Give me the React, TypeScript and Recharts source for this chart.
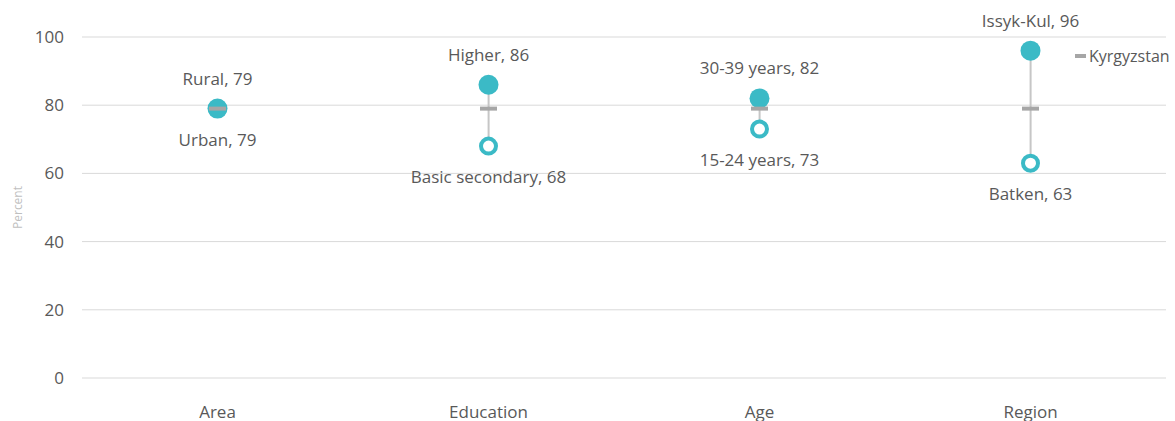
import {
  ComposedChart,
  Bar,
  Line,
  XAxis,
  YAxis,
  CartesianGrid,
  LabelList,
} from 'recharts';

const categories = ['Area', 'Education', 'Age', 'Region'];
const highNames = ['Rural', 'Higher', '30-39 years', 'Issyk-Kul'];
const highValues = [79, 86, 82, 96];
const lowNames = ['Urban', 'Basic secondary', '15-24 years', 'Batken'];
const lowValues = [79, 68, 73, 63];
const nationalValues = [79, 79, 79, 79];
const yTicks = [0, 20, 40, 60, 80, 100];

const data = categories.map((category, i) => ({
  category,
  high: highValues[i],
  low: lowValues[i],
  national: nationalValues[i],
  range: [lowValues[i], highValues[i]],
}));

const TEAL = '#3bbac6';
const DASH_GREY = '#a6a6a6';
const TEXT = '#595959';
const FONT = '"Open Sans", Roboto, sans-serif';

// thin vertical connector from min to max
function RangeLine(props: any) {
  const { x, y, width, height } = props;
  if (x == null || y == null) return null;
  const cx = x + width / 2;
  return <line x1={cx} x2={cx} y1={y} y2={y + height} stroke="#c6c6c6" strokeWidth={2} />;
}

function FilledDot(props: any) {
  const { cx, cy, index } = props;
  if (cx == null || cy == null) return null;
  return <circle key={`f${index}`} cx={cx} cy={cy} r={10} fill={TEAL} />;
}

function HollowDot(props: any) {
  const { cx, cy, index } = props;
  if (cx == null || cy == null) return null;
  return <circle key={`h${index}`} cx={cx} cy={cy} r={7.5} fill="#fff" stroke={TEAL} strokeWidth={4} />;
}

function NationalDash(props: any) {
  const { cx, cy, index } = props;
  if (cx == null || cy == null) return null;
  return <rect key={`n${index}`} x={cx - 8.5} y={cy - 2} width={17} height={4} fill={DASH_GREY} />;
}

function HighLabel(props: any) {
  const { x, y, index } = props;
  return (
    <text x={x} y={y - 30} dy="0.35em" textAnchor="middle" fill={TEXT} fontSize={17} fontFamily={FONT}>
      {`${highNames[index]}, ${highValues[index]}`}
    </text>
  );
}

function LowLabel(props: any) {
  const { x, y, index } = props;
  return (
    <text x={x} y={y + 31} dy="0.35em" textAnchor="middle" fill={TEXT} fontSize={17} fontFamily={FONT}>
      {`${lowNames[index]}, ${lowValues[index]}`}
    </text>
  );
}

export default function App() {
  return (
    <div style={{ position: 'absolute', left: 0, top: 0, width: 1175, height: 421, background: '#fff', overflow: 'hidden' }}>
      <ComposedChart width={1175} height={421} data={data} margin={{ top: 37, right: 9, bottom: 13, left: 10 }}>
        <CartesianGrid vertical={false} stroke="#d9d9d9" />
        <XAxis
          dataKey="category"
          axisLine={false}
          tickLine={false}
          height={30}
          tickSize={0}
          tickMargin={28}
          tick={{ fill: TEXT, fontSize: 17, fontFamily: FONT }}
        />
        <YAxis
          domain={[0, 100]}
          ticks={yTicks}
          axisLine={false}
          tickLine={false}
          tickSize={0}
          tickMargin={18}
          width={72}
          tick={{ fill: TEXT, fontSize: 17, fontFamily: FONT }}
          label={{
            value: 'Percent',
            angle: -90,
            position: 'insideLeft',
            offset: 0,
            textAnchor: 'middle',
            dx: 8,
            fill: '#bfbfbf',
            fontSize: 12,
            fontFamily: FONT,
          }}
        />
        <Bar dataKey="range" shape={<RangeLine />} isAnimationActive={false} />
        <Line dataKey="low" stroke="none" dot={<HollowDot />} activeDot={false} isAnimationActive={false}>
          <LabelList dataKey="low" content={<LowLabel />} />
        </Line>
        <Line dataKey="high" stroke="none" dot={<FilledDot />} activeDot={false} isAnimationActive={false}>
          <LabelList dataKey="high" content={<HighLabel />} />
        </Line>
        <Line dataKey="national" stroke="none" dot={<NationalDash />} activeDot={false} isAnimationActive={false} />
      </ComposedChart>
      {/* legend for the national marker */}
      <div
        style={{
          position: 'absolute',
          left: 1075,
          top: 45,
          display: 'flex',
          alignItems: 'center',
          fontFamily: FONT,
          fontSize: 16,
          color: TEXT,
          whiteSpace: 'nowrap',
        }}
      >
        <span style={{ display: 'inline-block', width: 11, height: 4, background: DASH_GREY, marginRight: 3 }} />
        Kyrgyzstan
      </div>
    </div>
  );
}
